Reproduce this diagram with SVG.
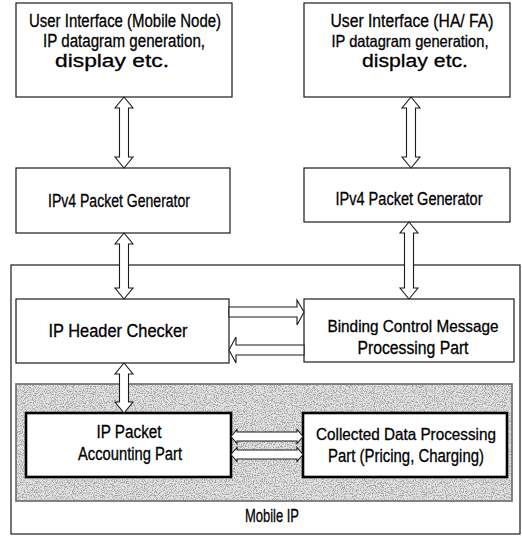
<svg xmlns="http://www.w3.org/2000/svg" width="522" height="536" viewBox="0 0 522 536">
<style>
  .box { fill: #ffffff; stroke: #1a1a1a; stroke-width: 1.2; }
  .thick { fill: #ffffff; stroke: #000000; stroke-width: 2.6; }
  .arr { fill: #ffffff; stroke: #1a1a1a; stroke-width: 1.1; stroke-linejoin: miter; }
  text { font-family: "Liberation Sans", Arial, sans-serif; font-size: 18px; fill: #000000; stroke: #000000; stroke-width: 0.3; text-anchor: middle; }
  text.sm { font-size: 16.5px; }
</style>
<defs>
  <filter id="speckle" x="0" y="0" width="100%" height="100%">
    <feTurbulence type="fractalNoise" baseFrequency="0.9" numOctaves="2" seed="7" result="n"/>
    <feColorMatrix in="n" type="matrix" values="0 0 0 0 0.35  0 0 0 0 0.35  0 0 0 0 0.35  -4 0 0 0 2.3" result="dots"/>
    <feFlood flood-color="#e6e6e6" result="bg"/>
    <feMerge result="m"><feMergeNode in="bg"/><feMergeNode in="dots"/></feMerge>
    <feComposite in="m" in2="SourceAlpha" operator="in"/>
  </filter>
</defs>

<g id="mobile-ip">
  <rect x="11" y="265" width="509" height="269" class="box"/>
  <text x="272" y="522" textLength="54" lengthAdjust="spacingAndGlyphs">Mobile IP</text>
</g>

<g id="shaded-area">
  <rect x="16" y="384" width="496" height="117" fill="#ddd" filter="url(#speckle)"/>
  <rect x="16" y="384" width="496" height="117" fill="none" stroke="#6a6a6a" stroke-width="1.6"/>
</g>

<g id="ui-mobile-node">
  <rect x="16" y="3" width="216" height="94" class="box"/>
  <text x="125" y="27" textLength="192" lengthAdjust="spacingAndGlyphs">User Interface (Mobile Node)</text>
  <text x="124" y="47" textLength="162" lengthAdjust="spacingAndGlyphs">IP datagram generation,</text>
  <text x="112" y="67" textLength="114" lengthAdjust="spacingAndGlyphs">display etc.</text>
</g>

<g id="ui-ha-fa">
  <rect x="304" y="3" width="206" height="94" class="box"/>
  <text x="412" y="27" textLength="163" lengthAdjust="spacingAndGlyphs">User Interface (HA/ FA)</text>
  <text class="sm" x="410" y="47" textLength="157" lengthAdjust="spacingAndGlyphs">IP datagram generation,</text>
  <text x="415" y="67" textLength="106" lengthAdjust="spacingAndGlyphs">display etc.</text>
</g>

<g id="ipv4-left">
  <rect x="16" y="168" width="214" height="65" class="box"/>
  <text x="119" y="207" textLength="142" lengthAdjust="spacingAndGlyphs">IPv4 Packet Generator</text>
</g>

<g id="ipv4-right">
  <rect x="304" y="168" width="206" height="54" class="box"/>
  <text x="409" y="205" textLength="147" lengthAdjust="spacingAndGlyphs">IPv4 Packet Generator</text>
</g>

<g id="ip-header-checker">
  <rect x="16" y="299" width="213" height="64" class="box"/>
  <text x="118" y="337" textLength="139" lengthAdjust="spacingAndGlyphs">IP Header Checker</text>
</g>

<g id="binding-control">
  <rect x="304" y="299" width="210" height="63" class="box"/>
  <text class="sm" x="413" y="332" textLength="171" lengthAdjust="spacingAndGlyphs">Binding Control Message</text>
  <text x="413" y="354" textLength="111" lengthAdjust="spacingAndGlyphs">Processing Part</text>
</g>

<g id="ip-packet-accounting">
  <rect x="26" y="413" width="205" height="64" class="thick"/>
  <text x="129" y="438" textLength="65" lengthAdjust="spacingAndGlyphs">IP Packet</text>
  <text x="130" y="460" textLength="104" lengthAdjust="spacingAndGlyphs">Accounting Part</text>
</g>

<g id="collected-data">
  <rect x="303" y="413" width="204" height="64" class="thick"/>
  <text class="sm" x="406" y="440" textLength="180" lengthAdjust="spacingAndGlyphs">Collected Data Processing</text>
  <text x="406" y="462" textLength="156" lengthAdjust="spacingAndGlyphs">Part (Pricing, Charging)</text>
</g>

<g id="connectors">
  <polygon class="arr" points="124,97 133,108 128.5,108 128.5,157 133,157 124,168 115,157 119.5,157 119.5,108 115,108"/>
  <polygon class="arr" points="124,233 133,244 128.5,244 128.5,288 133,288 124,299 115,288 119.5,288 119.5,244 115,244"/>
  <polygon class="arr" points="124,363 133,374 128.5,374 128.5,402 133,402 124,413 115,402 119.5,402 119.5,374 115,374"/>
  <polygon class="arr" points="411,97 420,108 415.5,108 415.5,157 420,157 411,168 402,157 406.5,157 406.5,108 402,108"/>
  <polygon class="arr" points="409,222 418,233 413.5,233 413.5,288 418,288 409,299 400,288 404.5,288 404.5,233 400,233"/>
  <polygon class="arr" points="229,307 297,307 297,300 304,312 297,325 297,317 229,317"/>
  <polygon class="arr" points="304,345 236,345 236,337 229,350 236,363 236,355 304,355"/>
  <polygon class="arr" points="231,436.5 237,429.5 237,432 297,432 297,429.5 303,436.5 297,443.5 297,441 237,441 237,443.5"/>
  <polygon class="arr" points="231,454.5 237,447.5 237,450 297,450 297,447.5 303,454.5 297,461.5 297,459 237,459 237,461.5"/>
</g>
</svg>
